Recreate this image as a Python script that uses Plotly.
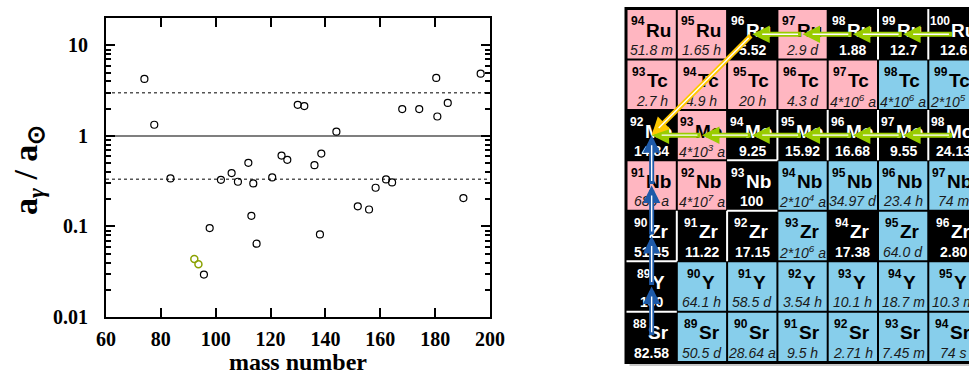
import plotly.graph_objects as go

# ---------------- left panel data ----------------
mass_number = [74.0, 77.6, 83.5, 95.7, 97.8, 101.9, 105.8, 108.1, 111.9, 113.0,
               113.7, 114.9, 120.6, 124.0, 126.1, 129.9, 132.3, 136.0, 138.0, 138.5,
               144.0, 151.8, 155.9, 158.3, 162.1, 164.3, 168.0, 174.2, 180.4, 180.8,
               184.6, 190.3, 196.6]
abundance_ratio = [4.27, 1.33, 0.34, 0.0294, 0.096, 0.328, 0.389, 0.312, 0.505, 0.131,
                   0.299, 0.0645, 0.348, 0.608, 0.545, 2.21, 2.14, 0.476, 0.0817, 0.639,
                   1.116, 0.167, 0.154, 0.268, 0.331, 0.307, 1.98, 1.98, 4.38, 1.64,
                   2.32, 0.206, 4.88]
mo_mass_number = [92.2, 93.7]
mo_abundance_ratio = [0.0438, 0.0382]
solar_line = 1.0
band_lines = [3.0, 1.0 / 3.0]
x_range = [60, 200]
x_tick_values = [60, 80, 100, 120, 140, 160, 180, 200]
y_tick_values = [0.01, 0.1, 1, 10]
y_tick_labels = ["0.01", "0.1", "1", "10"]

# ---------------- right panel data (chart of nuclides) ----------------
element_symbols = ["Ru", "Tc", "Mo", "Nb", "Zr", "Y", "Sr"]
proton_numbers = [44, 43, 42, 41, 40, 39, 38]
neutron_numbers = [50, 51, 52, 53, 54, 55, 56]
# s = stable, p = proton-rich unstable, b = neutron-rich unstable
cell_kinds = ["ppspsss", "pppppbb", "spsssss", "ppsbbbb", "sssbsbs", "sbbbbbb", "sbbbbbb"]
cell_labels = [
    ["51.8 m", "1.65 h", "5.52", "2.9 d", "1.88", "12.7", "12.6"],
    ["2.7 h", "4.9 h", "20 h", "4.3 d", "4*10<sup>6</sup> a", "4*10<sup>6</sup> a", "2*10<sup>5</sup> a"],
    ["14.84", "4*10<sup>3</sup> a", "9.25", "15.92", "16.68", "9.55", "24.13"],
    ["680 a", "4*10<sup>7</sup> a", "100", "2*10<sup>4</sup> a", "34.97 d", "23.4 h", "74 m"],
    ["51.45", "11.22", "17.15", "2*10<sup>6</sup> a", "17.38", "64.0 d", "2.80"],
    ["100", "64.1 h", "58.5 d", "3.54 h", "10.1 h", "18.7 m", "10.3 m"],
    ["82.58", "50.5 d", "28.64 a", "9.5 h", "2.71 h", "7.45 m", "74 s"],
]
green_paths = [  # (proton number, neutron numbers along the path)
    (44, [56, 55, 54, 53, 52]),
    (42, [56, 55, 54, 53, 52, 51, 50]),
]
yellow_path = [(52, 44), (50, 42)]          # (N, Z) from -> to
blue_path_neutron = 50
blue_path_protons = [38, 39, 40, 41, 42]

# ---------------- styling ----------------
kind_fill = {"p": "#FFB6C1", "b": "#87CEEB"}
serif = "Liberation Serif"
sans = "Liberation Sans, Arial, sans-serif"
W, H = 969, 372
px_x = 50.3     # pixels per neutron number
px_y = 50.43    # pixels per proton number
grid_left_px = 626.5
grid_top_px = 9.06
x2_dom = [0.6, 1.0]
x2_lo = (neutron_numbers[0] - 0.5) - (grid_left_px - x2_dom[0] * W) / px_x
x2_hi = x2_lo + (x2_dom[1] - x2_dom[0]) * W / px_x
y2_hi = (proton_numbers[0] + 0.5) + grid_top_px / px_y
y2_lo = y2_hi - H / px_y

fig = go.Figure()

# reference lines
fig.add_trace(go.Scatter(x=x_range, y=[solar_line, solar_line], mode="lines",
                         line=dict(color="#555555", width=1.5), hoverinfo="skip"))
for v in band_lines:
    fig.add_trace(go.Scatter(x=x_range, y=[v, v], mode="lines",
                             line=dict(color="#555555", width=1.5, dash="dot"), hoverinfo="skip"))
fig.add_trace(go.Scatter(x=mass_number, y=abundance_ratio, mode="markers",
                         marker=dict(symbol="circle-open", size=7, color="black", line=dict(width=1.2))))
fig.add_trace(go.Scatter(x=mo_mass_number, y=mo_abundance_ratio, mode="markers",
                         marker=dict(symbol="circle-open", size=7, color="#8AA100", line=dict(width=1.5))))

shapes = []
annotations = []

nmin, nmax = min(neutron_numbers), max(neutron_numbers)
zmin, zmax = min(proton_numbers), max(proton_numbers)
# shadow + black background
shapes.append(dict(type="rect", xref="x2", yref="y2",
                   x0=nmin - 0.5 + 3 / px_x, x1=nmax + 0.5 + 3 / px_x,
                   y0=zmin - 0.5 - 4 / px_y, y1=zmax + 0.5 - 4 / px_y,
                   fillcolor="#c8c8c8", line_width=0))
shapes.append(dict(type="rect", xref="x2", yref="y2",
                   x0=nmin - 0.5 - 2 / px_x, x1=nmax + 0.5 + 2 / px_x,
                   y0=zmin - 0.5 - 2 / px_y, y1=zmax + 0.5 + 2 / px_y,
                   fillcolor="black", line_width=0))

kind_map = {}
for r, z in enumerate(proton_numbers):
    for c, n in enumerate(neutron_numbers):
        kind_map[(n, z)] = cell_kinds[r][c]

dx, dy = 1 / px_x, 1 / px_y
for (n, z), k in kind_map.items():
    if k != "s":
        shapes.append(dict(type="rect", xref="x2", yref="y2",
                           x0=n - 0.5 + dx, x1=n + 0.5 - dx, y0=z - 0.5 + dy, y1=z + 0.5 - dy,
                           fillcolor=kind_fill[k], line_width=0))
# white separators between neighbouring stable cells
for (n, z), k in kind_map.items():
    if k != "s":
        continue
    if kind_map.get((n + 1, z)) == "s":
        shapes.append(dict(type="line", xref="x2", yref="y2", x0=n + 0.5, x1=n + 0.5,
                           y0=z - 0.5, y1=z + 0.5, line=dict(color="white", width=2)))
    if kind_map.get((n, z + 1)) == "s":
        shapes.append(dict(type="line", xref="x2", yref="y2", x0=n - 0.5, x1=n + 0.5,
                           y0=z + 0.5, y1=z + 0.5, line=dict(color="white", width=2)))

# approximate glyph widths (em) for centring the "mass number + symbol" pair
em = {"R": .722, "u": .611, "T": .611, "c": .556, "M": .833, "o": .611, "N": .722,
      "b": .611, "Z": .611, "r": .389, "Y": .667, "S": .667}
sym_size, num_size, info_size = 19, 12, 14
for r, z in enumerate(proton_numbers):
    sym = element_symbols[r]
    for c, n in enumerate(neutron_numbers):
        k = cell_kinds[r][c]
        a = str(z + n)
        txt_col = "white" if k == "s" else "black"
        w_sym = sum(em[ch] for ch in sym) * sym_size
        w_num = 0.556 * len(a) * num_size
        split = (w_num - w_sym) / 2 - 1.0
        annotations.append(dict(x=n, y=z, xref="x2", yref="y2", text=a, showarrow=False,
                                xanchor="right", xshift=split + 1, yshift=12.8, borderpad=0,
                                font=dict(family=sans, size=num_size, color=txt_col, weight="bold")))
        annotations.append(dict(x=n, y=z, xref="x2", yref="y2", text=sym, showarrow=False,
                                xanchor="left", xshift=split, yshift=4.0, borderpad=0,
                                font=dict(family=sans, size=sym_size, color=txt_col, weight="bold")))
        lab = cell_labels[r][c]
        if k == "s":
            f = dict(family=sans, size=info_size, color="white", weight="bold")
        else:
            f = dict(family=sans, size=info_size, color="#1a1a1a", style="italic")
        annotations.append(dict(x=n, y=z, xref="x2", yref="y2", text=lab, showarrow=False,
                                xanchor="center", yshift=-15.8, borderpad=0, font=f))


def add_arrow(n0, z0, n1, z1, color):
    annotations.append(dict(x=n1, y=z1, ax=n0, ay=z0, xref="x2", yref="y2", axref="x2", ayref="y2",
                            text="", showarrow=True, arrowhead=2, arrowsize=0.7, arrowwidth=5,
                            arrowcolor=color, standoff=0))
    annotations.append(dict(x=n1, y=z1, ax=n0, ay=z0, xref="x2", yref="y2", axref="x2", ayref="y2",
                            text="", showarrow=True, arrowhead=0, arrowwidth=1.4,
                            arrowcolor="white", standoff=10, startstandoff=3))


for z, path in green_paths:
    for a0, a1 in zip(path[:-1], path[1:]):
        add_arrow(a0, z, a1, z, "#99CC00")
add_arrow(yellow_path[0][0], yellow_path[0][1], yellow_path[1][0], yellow_path[1][1], "#FFC800")
for z0, z1 in zip(blue_path_protons[:-1], blue_path_protons[1:]):
    add_arrow(blue_path_neutron, z0, blue_path_neutron, z1, "#1E5AA8")

# axis titles of the left panel
annotations.append(dict(xref="paper", yref="paper", x=28 / W, y=1 - 170 / H, showarrow=False,
                        textangle=-90, xanchor="center", yanchor="middle",
                        text="a<sub><i>γ</i></sub> / a<sub>⊙</sub>",
                        font=dict(family=serif, size=34, color="black", weight="bold")))
annotations.append(dict(xref="paper", yref="paper", x=298 / W, y=1 - 362 / H, showarrow=False,
                        xanchor="center", yanchor="middle", text="mass number",
                        font=dict(family=serif, size=24, color="black", weight="bold")))

tickfont = dict(family=serif, size=20, color="black", weight="bold")
fig.update_layout(
    width=W, height=H, margin=dict(l=0, r=0, t=0, b=0, pad=0, autoexpand=False),
    paper_bgcolor="white", plot_bgcolor="white", showlegend=False,
    xaxis=dict(domain=[106 / W, 490 / W], range=x_range, tickvals=x_tick_values,
               ticks="inside", ticklen=9, tickwidth=2, tickcolor="black",
               showline=True, linewidth=2, linecolor="black", mirror="ticks",
               showgrid=False, zeroline=False, tickfont=tickfont, ticklabelstandoff=3,
               automargin=False),
    yaxis=dict(type="log", domain=[1 - 317 / H, 1 - 18.3 / H], range=[-2, 1.30],
               tickvals=y_tick_values, ticktext=y_tick_labels,
               ticks="inside", ticklen=9, tickwidth=2, tickcolor="black",
               showline=True, linewidth=2, linecolor="black", mirror="allticks",
               showgrid=False, zeroline=False, tickfont=tickfont, ticklabelstandoff=12,
               automargin=False,
               minor=dict(ticks="inside", ticklen=5, tickwidth=1.5, tickcolor="black",
                          dtick="D1", showgrid=False)),
    xaxis2=dict(domain=x2_dom, range=[x2_lo, x2_hi], visible=False, anchor="y2",
                showgrid=False, automargin=False),
    yaxis2=dict(domain=[0, 1], range=[y2_lo, y2_hi], visible=False, anchor="x2",
                showgrid=False, automargin=False),
    shapes=shapes, annotations=annotations,
)

fig.write_html("out.html")
